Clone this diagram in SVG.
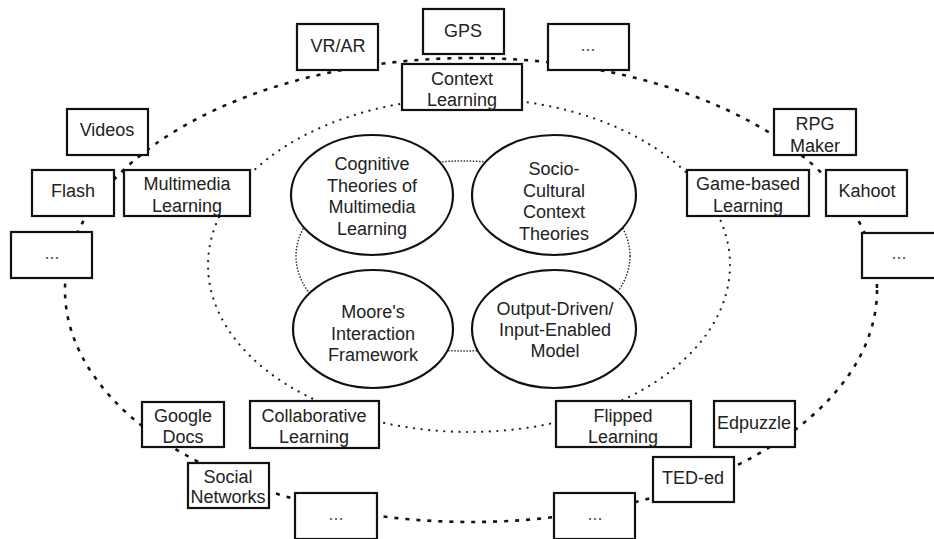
<svg xmlns="http://www.w3.org/2000/svg" width="934" height="539" viewBox="0 0 934 539">
<style>
.box{fill:#fff;stroke:#111;stroke-width:2.2}
.ell{fill:#fff;stroke:#111;stroke-width:2.2}
text{font-family:"Liberation Sans",Arial,sans-serif;font-size:18px;fill:#222;text-anchor:middle}
.dots{fill:#555}
.outer{fill:none;stroke:#111;stroke-width:2.6;stroke-dasharray:4 7}
.middle{fill:none;stroke:#222;stroke-width:2.2;stroke-dasharray:0.1 7.5;stroke-linecap:round}
.inner{fill:none;stroke:#333;stroke-width:1.5;stroke-dasharray:1.5 1.6}
</style>
<rect width="934" height="539" fill="#fff"/>
<g id="connectors">
<ellipse class="outer" cx="471" cy="290" rx="406" ry="232"/>
<ellipse class="middle" cx="469" cy="265" rx="261" ry="167"/>
<ellipse class="inner" cx="463" cy="256" rx="167" ry="95"/>
</g>
<g id="cognitive"><ellipse class="ell" cx="372" cy="195" rx="81" ry="60"/><text x="372" y="170">Cognitive</text><text x="372" y="192">Theories of</text><text x="372" y="213">Multimedia</text><text x="372" y="235">Learning</text></g>
<g id="socio"><ellipse class="ell" cx="554" cy="195" rx="82" ry="60"/><text x="554" y="175">Socio-</text><text x="554" y="197">Cultural</text><text x="554" y="218">Context</text><text x="554" y="240">Theories</text></g>
<g id="moore"><ellipse class="ell" cx="373" cy="329" rx="80" ry="59"/><text x="373" y="318">Moore's</text><text x="373" y="340">Interaction</text><text x="373" y="361">Framework</text></g>
<g id="output"><ellipse class="ell" cx="554" cy="329" rx="82" ry="59"/><text x="555" y="315">Output-Driven/</text><text x="555" y="336">Input-Enabled</text><text x="555" y="357">Model</text></g>
<g id="vrar"><rect class="box" x="297" y="24" width="81" height="46"/><text x="338" y="52">VR/AR</text></g>
<g id="gps"><rect class="box" x="423" y="9" width="81" height="45"/><text x="463" y="37">GPS</text></g>
<g id="more-top"><rect class="box" x="548" y="24" width="81" height="46"/><text class="dots" x="588" y="51">...</text></g>
<g id="context"><rect class="box" x="402" y="64" width="120" height="46"/><text x="462" y="85">Context</text><text x="462" y="106">Learning</text></g>
<g id="videos"><rect class="box" x="67" y="109" width="81" height="46"/><text x="107" y="136">Videos</text></g>
<g id="flash"><rect class="box" x="32" y="170" width="82" height="46"/><text x="73" y="197">Flash</text></g>
<g id="multimedia"><rect class="box" x="124" y="170" width="126" height="46"/><text x="187" y="190">Multimedia</text><text x="187" y="212">Learning</text></g>
<g id="more-left"><rect class="box" x="11" y="232" width="81" height="46"/><text class="dots" x="52" y="259">...</text></g>
<g id="rpg"><rect class="box" x="774" y="109" width="82" height="46"/><text x="815" y="130">RPG</text><text x="815" y="152">Maker</text></g>
<g id="game"><rect class="box" x="687" y="170" width="122" height="46"/><text x="748" y="190">Game-based</text><text x="748" y="212">Learning</text></g>
<g id="kahoot"><rect class="box" x="826" y="170" width="81" height="46"/><text x="867" y="197">Kahoot</text></g>
<g id="more-right"><rect class="box" x="862" y="233" width="82" height="45"/><text class="dots" x="899" y="259">...</text></g>
<g id="googledocs"><rect class="box" x="142" y="402" width="82" height="45"/><text x="183" y="422">Google</text><text x="183" y="443">Docs</text></g>
<g id="collaborative"><rect class="box" x="250" y="401" width="129" height="47"/><text x="314" y="422">Collaborative</text><text x="314" y="443">Learning</text></g>
<g id="social"><rect class="box" x="188" y="463" width="81" height="45"/><text x="228" y="483">Social</text><text x="228" y="503">Networks</text></g>
<g id="more-bottom-left"><rect class="box" x="295" y="493" width="82" height="46"/><text class="dots" x="336" y="520">...</text></g>
<g id="flipped"><rect class="box" x="556" y="401" width="135" height="46"/><text x="623" y="422">Flipped</text><text x="623" y="443">Learning</text></g>
<g id="edpuzzle"><rect class="box" x="714" y="401" width="81" height="46"/><text x="754" y="429">Edpuzzle</text></g>
<g id="teded"><rect class="box" x="653" y="457" width="81" height="45"/><text x="693" y="484">TED-ed</text></g>
<g id="more-bottom-right"><rect class="box" x="554" y="493" width="81" height="46"/><text class="dots" x="595" y="520">...</text></g>
</svg>
